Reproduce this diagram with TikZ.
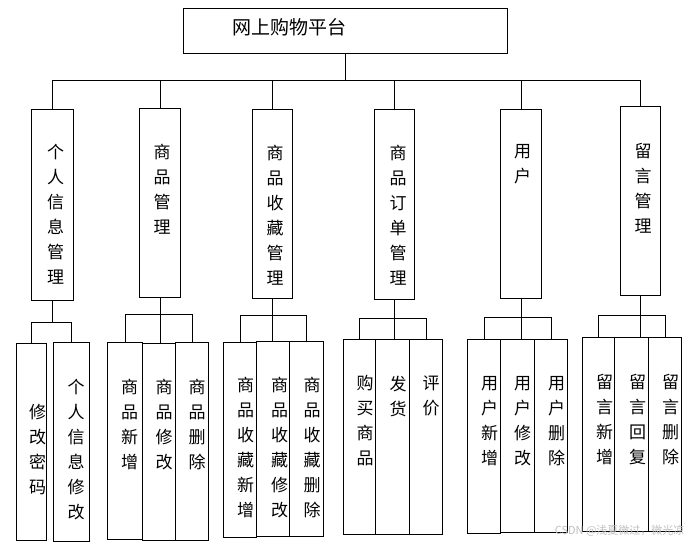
\documentclass[tikz,border=0pt]{standalone}
\usepackage{fontspec}
\setmainfont{Noto Sans CJK SC}
\usetikzlibrary{positioning}
\tikzset{
  cell/.style 2 args={draw,line width=.8pt,anchor=north west,inner sep=0pt,
    minimum width=#1,minimum height=#2},
  vtxt/.style={anchor=north,align=center,inner sep=0pt,
    font=\fontsize{17}{25}\selectfont},
  tree/.style={line width=.8pt},
}
\begin{document}
\begin{tikzpicture}[x=1pt,y=-1pt]
  \useasboundingbox (0,0) rectangle (695,545);
  % root
  \node[cell={324pt}{45pt}] (top) at (183,8) {};
  \node[font=\fontsize{19}{19}\selectfont] (top-t) at (289,27) {网上购物平台};
  % modules
  \node[cell={42pt}{191pt}] (m1) at (31,109) {};
  \node[cell={41pt}{189pt}] (m2) at (139,108) {};
  \node[cell={40pt}{189pt}] (m3) at (252,109) {};
  \node[cell={40pt}{190pt}] (m4) at (374,109) {};
  \node[cell={41pt}{189pt}] (m5) at (500,109) {};
  \node[cell={40pt}{189pt}] (m6) at (620,106) {};
  \node[vtxt] (m1-t) at (55.5,144.5) {个\\人\\信\\息\\管\\理};
  \node[vtxt] (m2-t) at (162,143.5) {商\\品\\管\\理};
  \node[vtxt] (m3-t) at (275,144.5) {商\\品\\收\\藏\\管\\理};
  \node[vtxt] (m4-t) at (398,144.5) {商\\品\\订\\单\\管\\理};
  \node[vtxt] (m5-t) at (522.5,144.5) {用\\户};
  \node[vtxt] (m6-t) at (643,143.5) {留\\言\\管\\理};
  % functions
  \node[cell={30pt}{197pt}] (g1a) at (16,343) {};
  \node[cell={36pt}{199pt}] (g1b) at (53,342) {};
  \node[cell={35pt}{197pt}] (g2a) at (107,342) {};
  \node[cell={33pt}{197pt}] (g2b) at (142,343) {};
  \node[cell={33pt}{198pt}] (g2c) at (175,342) {};
  \node[cell={33pt}{195pt}] (g3a) at (223,342) {};
  \node[cell={33pt}{195pt}] (g3b) at (256,341) {};
  \node[cell={34pt}{195pt}] (g3c) at (289,341) {};
  \node[cell={32pt}{195pt}] (g4a) at (343,339) {};
  \node[cell={34pt}{195pt}] (g4b) at (375,339) {};
  \node[cell={33pt}{195pt}] (g4c) at (409,339) {};
  \node[cell={33pt}{194pt}] (g5a) at (467,339) {};
  \node[cell={34pt}{193pt}] (g5b) at (500,339) {};
  \node[cell={33pt}{193pt}] (g5c) at (534,339) {};
  \node[cell={32pt}{194pt}] (g6a) at (582,337) {};
  \node[cell={34pt}{194pt}] (g6b) at (614,337) {};
  \node[cell={33pt}{194pt}] (g6c) at (648,337) {};
  \node[vtxt] (g1a-t) at (37.5,403.5) {修\\改\\密\\码};
  \node[vtxt] (g1b-t) at (76,378.5) {个\\人\\信\\息\\修\\改};
  \node[vtxt] (g2a-t) at (129.5,378.5) {商\\品\\新\\增};
  \node[vtxt] (g2b-t) at (164,378.5) {商\\品\\修\\改};
  \node[vtxt] (g2c-t) at (197,378.5) {商\\品\\删\\除};
  \node[vtxt] (g3a-t) at (245.5,376.5) {商\\品\\收\\藏\\新\\增};
  \node[vtxt] (g3b-t) at (279.5,376.5) {商\\品\\收\\藏\\修\\改};
  \node[vtxt] (g3c-t) at (312,376.5) {商\\品\\收\\藏\\删\\除};
  \node[vtxt] (g4a-t) at (365,375.5) {购\\买\\商\\品};
  \node[vtxt] (g4b-t) at (398,375.5) {发\\货};
  \node[vtxt] (g4c-t) at (431,375.5) {评\\价};
  \node[vtxt] (g5a-t) at (489.5,376.5) {用\\户\\新\\增};
  \node[vtxt] (g5b-t) at (522.5,376.5) {用\\户\\修\\改};
  \node[vtxt] (g5c-t) at (556.5,376.5) {用\\户\\删\\除};
  \node[vtxt] (g6a-t) at (604.5,374.5) {留\\言\\新\\增};
  \node[vtxt] (g6b-t) at (637.5,374.5) {留\\言\\回\\复};
  \node[vtxt] (g6c-t) at (670.5,374.5) {留\\言\\删\\除};
  % connectors
  \coordinate (bus) at (340,80);
  \draw[tree] (top.south) -- (top.south |- bus);
  \draw[tree] (m1.north |- bus) -- (m6.north |- bus);
  \foreach \m in {m1,m2,m3,m4,m5,m6}
    \draw[tree] (\m.north) -- (\m.north |- bus);
  \draw[tree] (m1.south) -- ++(0,22) coordinate (s1);
  \draw[tree] (g1a.north) |- (s1) -| (g1b.north);
  \foreach \i in {2,...,6}
    \draw[tree] (m\i.south) -- (m\i.south |- g\i b.north);
  \draw[tree] (g2a.north) -- ++(0,-28) -| (g2c.north);
  \draw[tree] (g3a.north) -- ++(0,-27) -| (g3c.north);
  \draw[tree] (g4a.north) -- ++(0,-21) -| (g4c.north);
  \draw[tree] (g5a.north) -- ++(0,-22) -| (g5c.north);
  \draw[tree] (g6a.north) -- ++(0,-22) -| (g6c.north);
  % watermark
  \node[text=black!25,font=\fontsize{11}{11}\selectfont,anchor=east] (mark) at (688,531) {CSDN @浅夏微过，微光凉};
\end{tikzpicture}
\end{document}
